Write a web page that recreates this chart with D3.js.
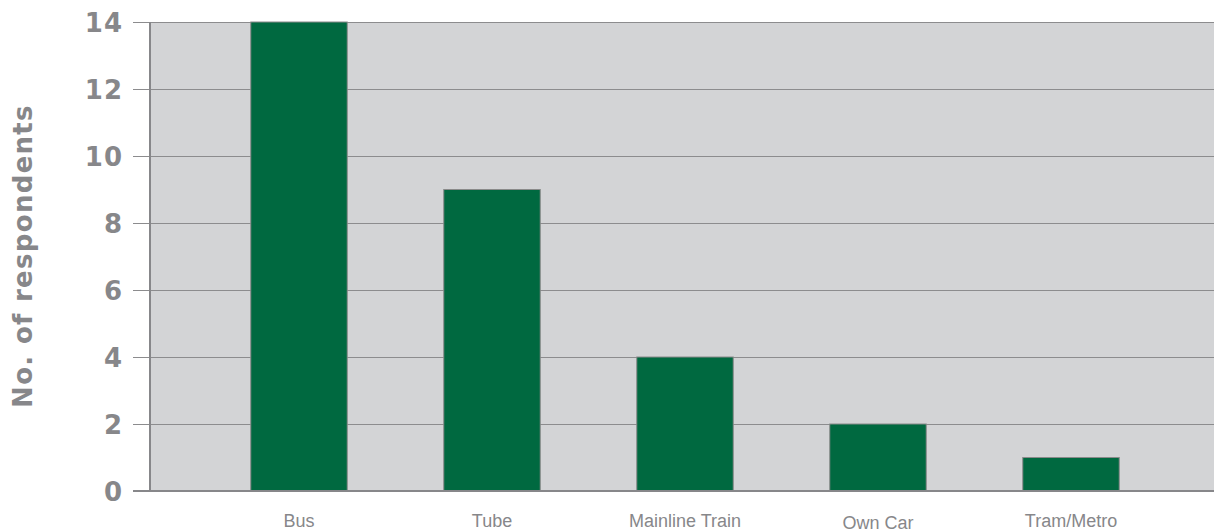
<!DOCTYPE html>
<html>
<head>
<meta charset="utf-8">
<script src="https://cdn.jsdelivr.net/npm/d3@7"></script>
<style>
  html, body { margin: 0; padding: 0; background: #fff; }
  svg { display: block; }
</style>
</head>
<body>
<svg id="chart" width="1214" height="530"></svg>
<script>
const categories = ["Bus", "Tube", "Mainline Train", "Own Car", "Tram/Metro"];
const values = [14, 9, 4, 2, 1];
const yTicks = [0, 2, 4, 6, 8, 10, 12, 14];
const yTitle = "No. of respondents";

const plot = { left: 150, right: 1214, top: 22, bottom: 491 };
const svg = d3.select("#chart");
const grey = "#87878a";

const y = d3.scaleLinear().domain([0, 14]).range([plot.bottom, plot.top]);
const x = d3.scaleBand().domain(categories).range([202.5, 1167.5]).paddingInner(0.5).paddingOuter(0.25);

// background
svg.append("rect")
  .attr("x", plot.left).attr("y", plot.top)
  .attr("width", plot.right - plot.left).attr("height", plot.bottom - plot.top)
  .attr("fill", "#d3d4d6");

// gridlines + ticks
const yAxis = d3.axisLeft(y).tickValues(yTicks).tickSize(plot.right - 133).tickPadding(10).tickFormat(d3.format("d"));
const gy = svg.append("g").attr("transform", `translate(${plot.right},0)`).call(yAxis);
gy.select(".domain").remove();
gy.selectAll(".tick line").attr("stroke", "#8c8c8e").attr("stroke-width", 1.2);
gy.selectAll(".tick text")
  .attr("fill", grey)
  .style("font-family", "'DejaVu Sans', sans-serif")
  .style("font-weight", "bold")
  .style("font-size", "26px")
  .style("letter-spacing", "1px")
  .attr("dy", "0.36em");

// bars
svg.append("g").selectAll("rect").data(categories).join("rect")
  .attr("x", d => x(d))
  .attr("y", (d, i) => y(values[i]))
  .attr("width", x.bandwidth())
  .attr("height", (d, i) => y(0) - y(values[i]))
  .attr("fill", "#006940")
  .attr("stroke", "#8a8a8a")
  .attr("stroke-width", 1);

// axes lines
svg.append("line").attr("x1", plot.left).attr("x2", plot.left).attr("y1", plot.top).attr("y2", plot.bottom + 1)
  .attr("stroke", grey).attr("stroke-width", 2);
svg.append("line").attr("x1", 133).attr("x2", plot.right).attr("y1", plot.bottom).attr("y2", plot.bottom)
  .attr("stroke", grey).attr("stroke-width", 2);

// x labels
const xAxis = d3.axisBottom(x).tickSize(0).tickPadding(0);
const gx = svg.append("g").attr("transform", `translate(0,${plot.bottom})`).call(xAxis);
gx.select(".domain").remove();
gx.selectAll(".tick text")
  .attr("y", d => d === "Own Car" ? 37.5 : 36)
  .attr("dy", 0)
  .attr("fill", grey)
  .style("font-family", "'Liberation Sans', Arial, sans-serif")
  .style("font-size", "18px");

// y title
svg.append("text")
  .attr("transform", `translate(32,256) rotate(-90)`)
  .attr("text-anchor", "middle")
  .attr("fill", grey)
  .style("font-family", "'DejaVu Sans', sans-serif")
  .style("font-weight", "bold")
  .style("font-size", "26px")
  .style("letter-spacing", "1.3px")
  .text(yTitle);
</script>
</body>
</html>
